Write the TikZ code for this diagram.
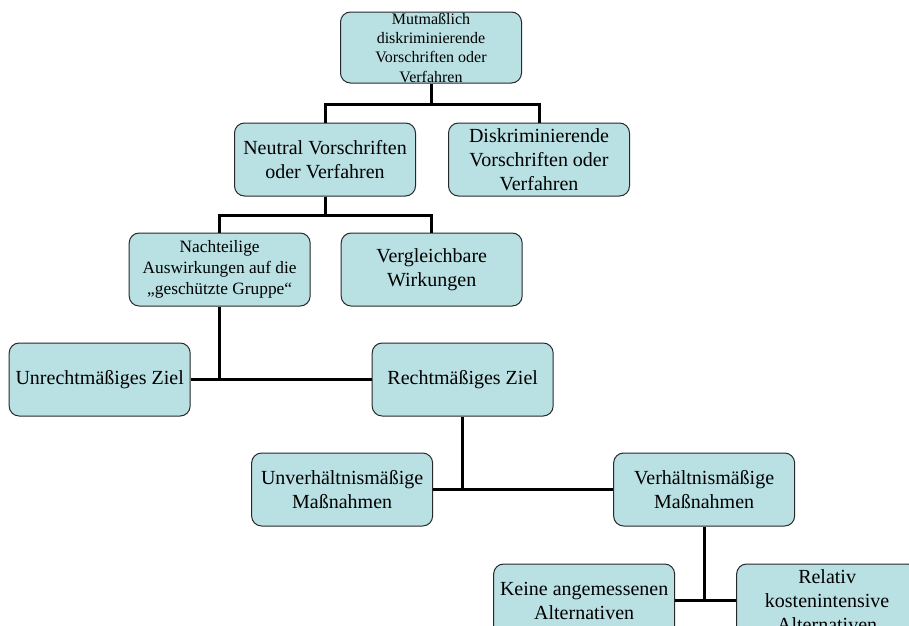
\documentclass[tikz,border=0pt]{standalone}
\usepackage{fontspec}
\setmainfont{Liberation Serif}
\usetikzlibrary{positioning}

\definecolor{boxfill}{RGB}{185,224,227}
\definecolor{boxline}{RGB}{40,40,40}

\tikzset{
  box/.style={draw=boxline, line width=0.75pt, fill=boxfill, rounded corners=7.5pt,
    minimum width=135.75pt, minimum height=54.75pt, inner sep=0pt, align=center,
    font=\fontsize{15}{18}\selectfont},
  link/.style={line width=2.25pt}
}

\begin{document}
\begin{tikzpicture}[x=0.75pt,y=-0.75pt]

\path[use as bounding box, clip] (0,0) rectangle (909,625);

\node(top)[box, minimum height=53.25pt, font=\fontsize{12}{14.5}\selectfont] at (431,47.5){Mutmaßlich\\diskriminierende\\Vorschriften oder\\Verfahren};

\node(neutral)[box, below = 29.25pt of top, xshift=-79.5pt]{Neutral Vorschriften\\oder Verfahren};

\node(diskrim)[box, right = 24pt of neutral]{Diskriminierende\\Vorschriften oder\\Verfahren};

\node(nachteil)[box, below = 27pt of neutral, xshift=-79pt, font=\fontsize{13}{15.6}\selectfont]{Nachteilige\\Auswirkungen auf die\\„geschützte Gruppe“};

\node(vergleich)[box, right = 22.5pt of nachteil]{Vergleichbare\\Wirkungen};

\node(unrecht)[box, below = 27pt of nachteil, xshift=-90pt]{Unrechtmäßiges Ziel};

\node(recht)[box, right = 135.75pt of unrecht]{Rechtmäßiges Ziel};

\node(unverh)[box, below = 27pt of recht, xshift=-90.4pt]{Unverhältnismäßige\\Maßnahmen};

\node(verh)[box, right = 135pt of unverh]{Verhältnismäßige\\Maßnahmen};

\node(keine)[box, below = 27.75pt of verh, xshift=-90pt]{Keine angemessenen\\Alternativen};

\node(relativ)[box, right = 45.75pt of keine]{Relativ\\kostenintensive\\Alternativen};

\coordinate[below = 15.75pt of top.south] (j1);

\coordinate[below = 14.25pt of neutral.south] (j2);

\coordinate (j3) at (nachteil |- unrecht);

\coordinate (j4) at (recht |- unverh);

\coordinate (j5) at (verh |- keine);

\draw[link] (top) -- (j1);

\draw[link] (neutral) |- (j1) -| (diskrim);

\draw[link] (neutral) -- (j2);

\draw[link] (nachteil) |- (j2) -| (vergleich);

\draw[link] (nachteil) -- (j3);

\draw[link] (unrecht) -- (recht);

\draw[link] (recht) -- (j4);

\draw[link] (unverh) -- (verh);

\draw[link] (verh) -- (j5);

\draw[link] (keine) -- (relativ);

\end{tikzpicture}
\end{document}
